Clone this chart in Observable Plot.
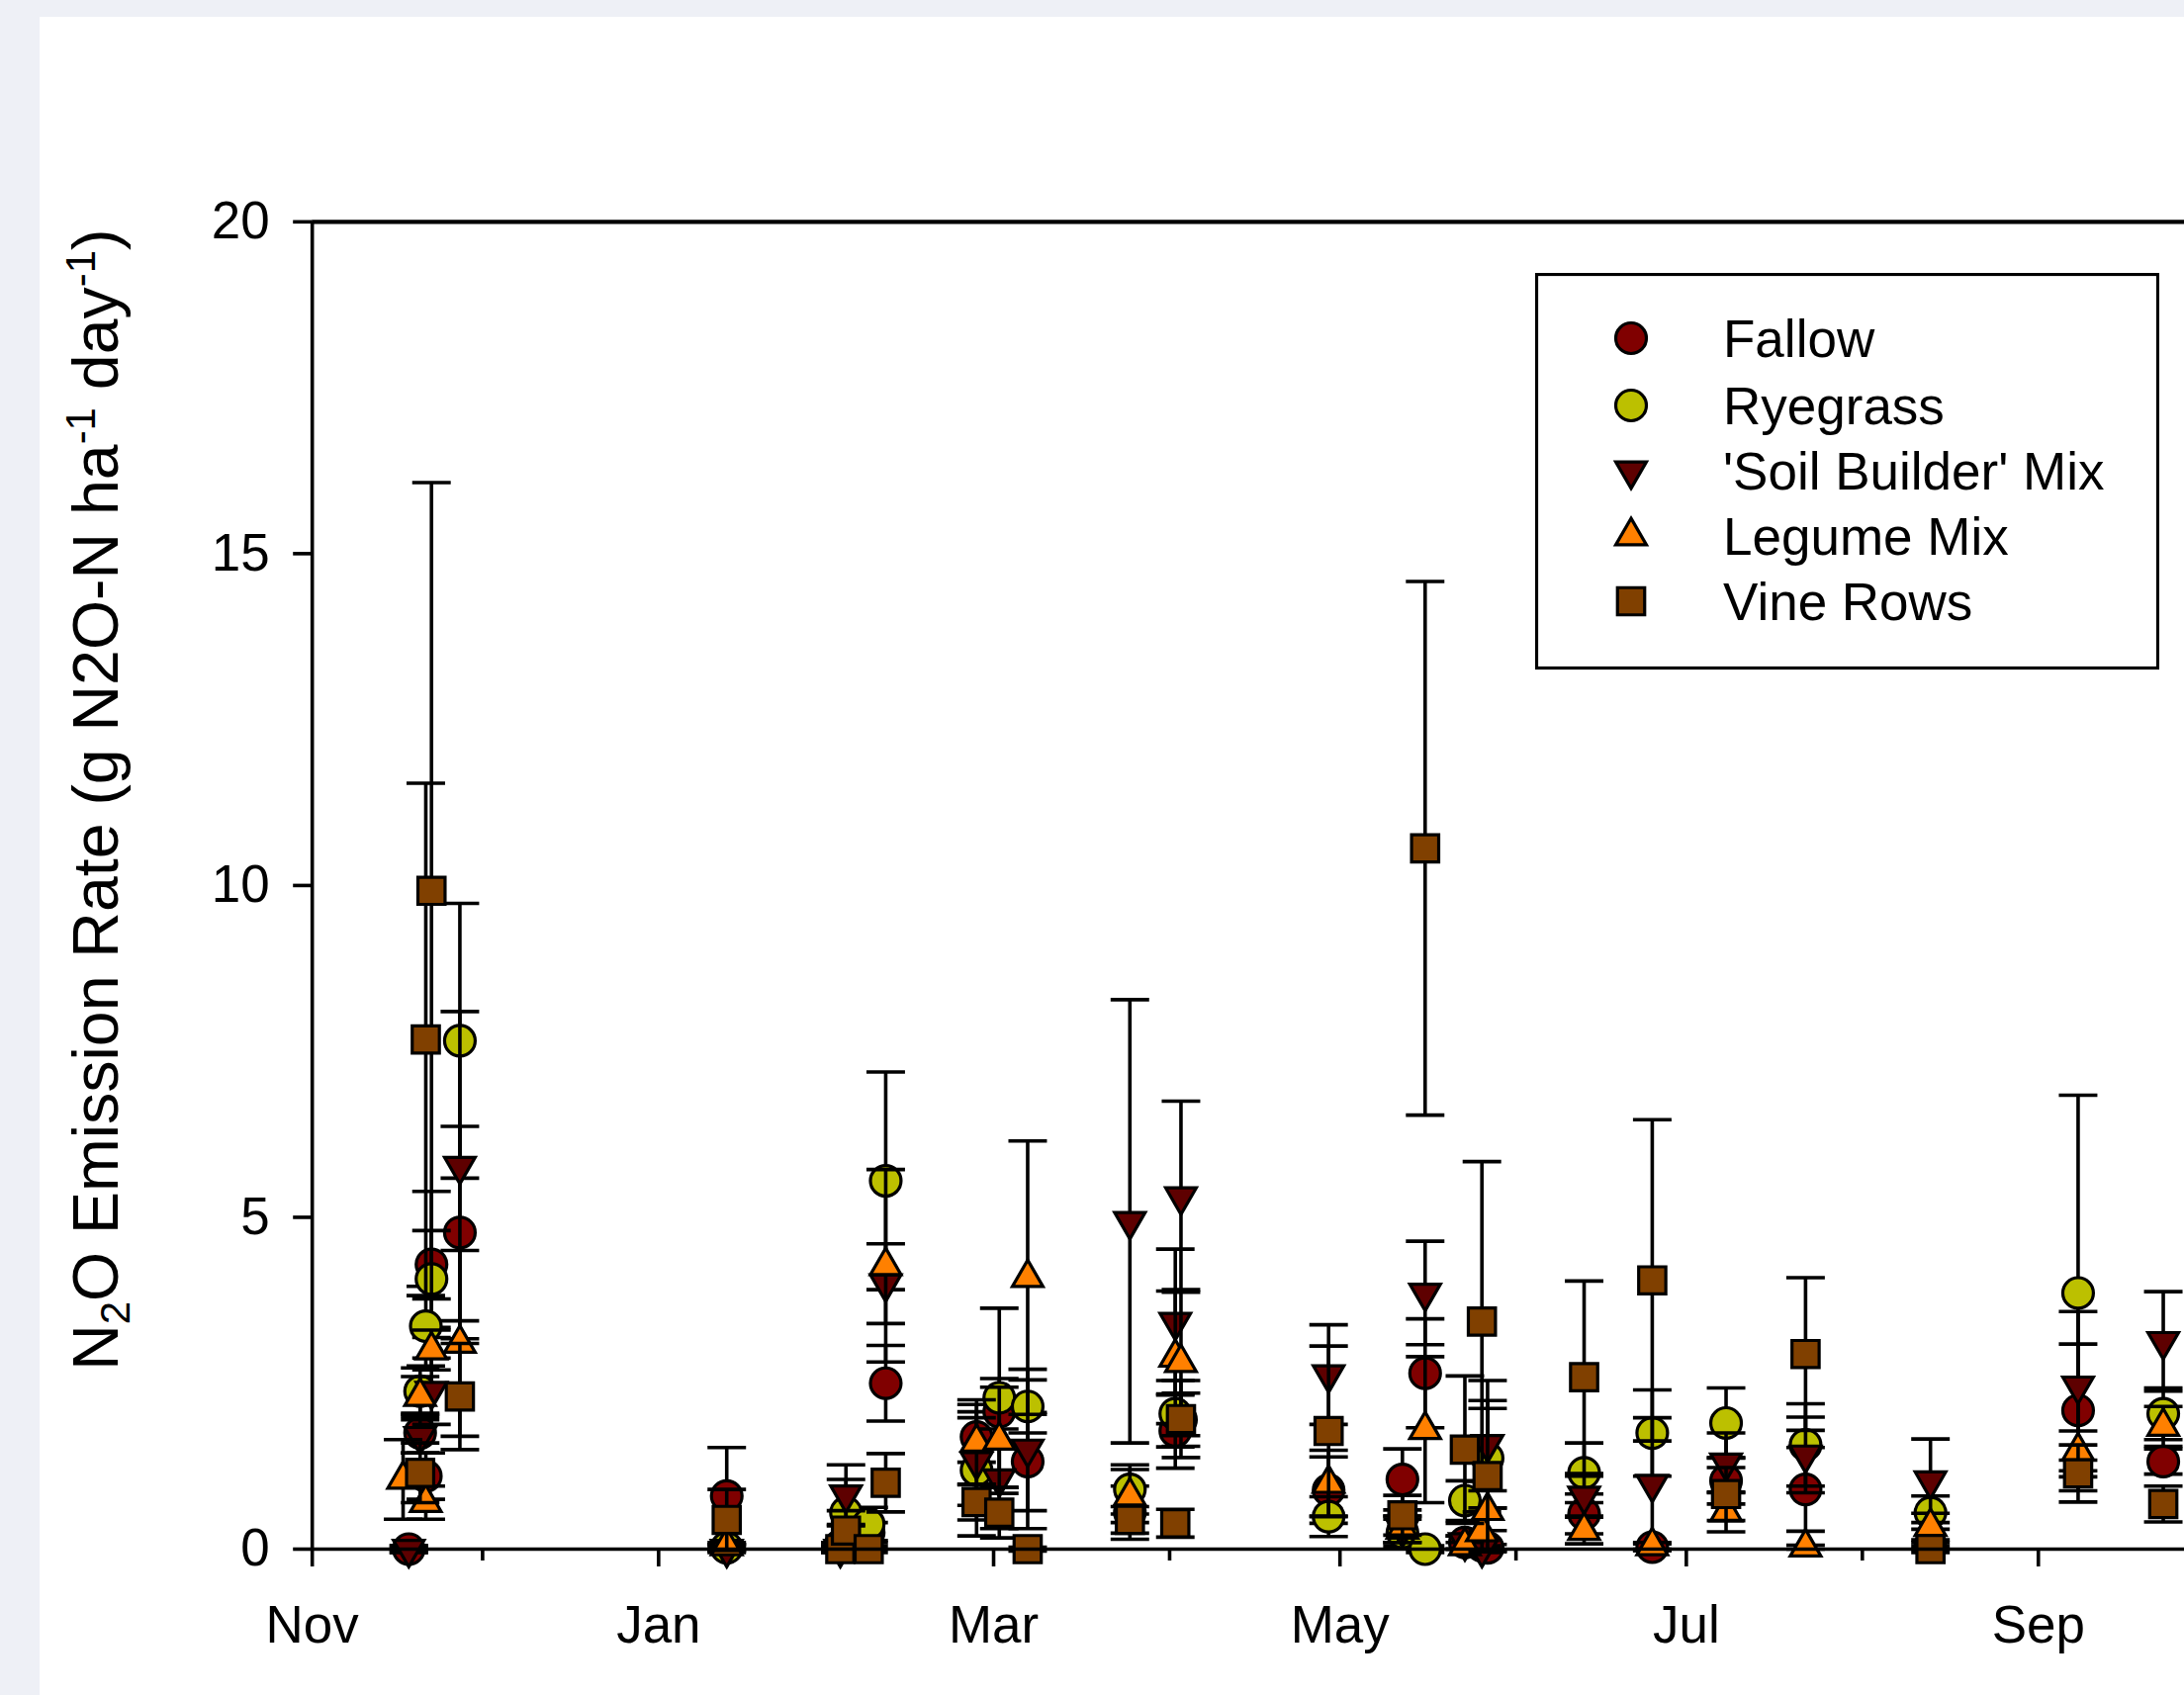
<!DOCTYPE html>
<html><head><meta charset="utf-8">
<script src="https://cdn.jsdelivr.net/npm/d3@7"></script>
<script src="https://cdn.jsdelivr.net/npm/@observablehq/plot@0.6"></script>
<style>
html,body{margin:0;padding:0;overflow:hidden;background:#eef0f6;width:2208px;height:1714px;}
#card{position:absolute;left:40px;top:17px;width:2400px;height:1760px;background:#fff;}
#card svg{display:block}
#legend{position:absolute;left:1512px;top:259px;}
</style></head><body><div id="card"></div><script>
// ---- data: [date, mean, standard error] ----
const fallow = [
  ["2012-11-18",0.00,0.05],["2012-11-20",1.75,0.30],["2012-11-21",1.10,0.35],["2012-11-22",4.29,1.10],["2012-11-27",4.77,1.60],
  ["2013-01-13",0.80,0.73],["2013-02-02",0.05,0.05],["2013-02-07",0.25,0.15],["2013-02-10",2.50,0.57],
  ["2013-02-26",1.69,0.38],["2013-03-02",2.07,0.50],["2013-03-07",1.32,0.74],["2013-03-25",0.55,0.40],
  ["2013-04-02",1.78,0.56],["2013-04-03",1.95,0.40],["2013-04-29",0.89,0.50],["2013-05-12",1.05,0.46],
  ["2013-05-16",2.65,0.82],["2013-05-23",0.10,0.10],["2013-05-26",0.05,0.10],["2013-05-27",0.02,0.05],
  ["2013-06-13",0.53,0.30],["2013-06-25",0.03,0.05],["2013-07-08",1.03,0.35],["2013-07-22",0.90,0.63],
  ["2013-08-13",0.05,0.05],["2013-09-08",2.09,1.00],["2013-09-23",1.32,0.19]
];
const ryegrass = [
  ["2012-11-20",2.38,0.35],["2012-11-21",3.36,0.60],["2012-11-22",4.07,0.73],["2012-11-27",7.66,2.07],
  ["2013-01-13",0.02,0.05],["2013-02-03",0.55,0.50],["2013-02-07",0.38,0.25],["2013-02-10",5.55,1.64],
  ["2013-02-26",1.19,0.99],["2013-03-02",2.28,1.35],["2013-03-07",2.15,0.40],["2013-03-25",0.90,0.37],
  ["2013-04-02",2.04,0.50],["2013-04-29",0.49,0.30],["2013-05-12",0.25,0.20],["2013-05-16",0.00,0.05],
  ["2013-05-23",0.73,0.30],["2013-05-27",1.37,0.75],["2013-06-13",1.15,0.45],["2013-06-25",1.75,0.65],
  ["2013-07-08",1.90,0.53],["2013-07-22",1.57,0.62],["2013-08-13",0.55,0.25],["2013-09-08",3.86,2.98],
  ["2013-09-23",2.04,0.39]
];
const soilBuilder = [
  ["2012-11-18",0.00,0.05],["2012-11-20",1.70,0.25],["2012-11-22",2.38,0.50],["2012-11-27",5.77,2.33],
  ["2013-01-13",0.00,0.05],["2013-02-02",0.00,0.05],["2013-02-03",0.82,0.45],["2013-02-10",4.00,0.60],
  ["2013-02-26",1.32,0.66],["2013-03-02",1.06,0.75],["2013-03-07",1.51,1.20],["2013-03-25",4.94,3.34],
  ["2013-04-02",3.42,1.10],["2013-04-03",5.31,1.44],["2013-04-29",2.63,0.75],["2013-05-12",0.30,0.20],
  ["2013-05-16",3.86,0.78],["2013-05-23",0.10,0.10],["2013-05-26",0.00,0.05],["2013-05-27",1.58,0.96],
  ["2013-06-13",0.80,0.30],["2013-06-25",0.98,1.00],["2013-07-08",1.30,0.45],["2013-07-22",1.42,0.57],
  ["2013-08-13",1.03,0.63],["2013-09-08",2.46,1.12],["2013-09-23",3.13,0.75]
];
const legumeMix = [
  ["2012-11-17",1.05,0.60],["2012-11-20",2.30,0.30],["2012-11-21",0.70,0.25],["2012-11-22",3.00,0.30],["2012-11-27",3.10,1.40],
  ["2013-01-13",0.05,0.05],["2013-02-03",0.20,0.15],["2013-02-10",4.27,1.45],["2013-02-26",1.61,0.64],
  ["2013-03-02",1.64,0.80],["2013-03-07",4.09,2.06],["2013-03-25",0.80,0.40],["2013-04-02",2.89,1.00],
  ["2013-04-03",2.81,1.10],["2013-04-29",0.99,0.50],["2013-05-12",0.30,0.20],["2013-05-16",1.80,1.10],
  ["2013-05-23",0.05,0.05],["2013-05-26",0.26,0.30],["2013-05-27",0.58,0.30],["2013-06-13",0.28,0.20],
  ["2013-06-25",0.05,0.05],["2013-07-08",0.56,0.30],["2013-07-22",0.03,0.03],["2013-08-13",0.34,0.20],
  ["2013-09-08",1.48,0.30],["2013-09-23",1.85,0.30]
];
const vineRows = [
  ["2012-11-20",1.15,0.45],["2012-11-21",7.68,3.86],["2012-11-22",9.92,6.15],["2012-11-27",2.30,0.80],
  ["2013-01-13",0.44,0.46],["2013-02-02",0.00,0.05],["2013-02-03",0.28,0.30],["2013-02-07",0.00,0.05],
  ["2013-02-10",1.00,0.44],["2013-02-26",0.71,0.27],["2013-03-02",0.55,0.38],["2013-03-07",0.00,0.03],
  ["2013-03-25",0.44,0.20],["2013-04-02",0.39,0.21],["2013-04-03",1.96,0.58],["2013-04-29",1.78,1.28],
  ["2013-05-12",0.51,0.30],["2013-05-16",10.56,4.02],["2013-05-23",1.50,1.11],["2013-05-26",3.43,2.41],
  ["2013-05-27",1.10,1.14],["2013-06-13",2.59,1.45],["2013-06-25",4.05,2.42],["2013-07-08",0.83,0.40],
  ["2013-07-22",2.94,1.15],["2013-08-13",0.00,0.05],["2013-09-08",1.14,0.43],["2013-09-23",0.68,0.27]
];
const seriesNames = ["Fallow","Ryegrass","'Soil Builder' Mix","Legume Mix","Vine Rows"];
const seriesColors = ["#800000","#bcc000","#5e0000","#ff8000","#804000"];
const majorTicks = ["2012-11-01","2013-01-01","2013-03-01","2013-05-01","2013-07-01","2013-09-01"];
const majorLabels = ["Nov","Jan","Mar","May","Jul","Sep"];
const minorTicks = ["2012-12-01","2013-02-01","2013-04-01","2013-06-01","2013-08-01","2013-10-01","2013-11-01"];
const yTicks = [0,5,10,15,20];
const xDomain = ["2012-11-01","2013-11-01"];
const yDomain = [0,20];

// ---- symbols ----
const invTriangle = {draw(ctx, size){
  const y = -Math.sqrt(size/(Math.sqrt(3)*3)), s3 = Math.sqrt(3);
  ctx.moveTo(0, -y*2); ctx.lineTo(-s3*y, y); ctx.lineTo(s3*y, y); ctx.closePath();
}};
const capSymbol = {draw(ctx, size){
  const w = Math.sqrt(size/Math.PI); ctx.moveTo(-w,0); ctx.lineTo(w,0);
}};
const symbolTypes = [d3.symbolCircle, d3.symbolCircle, invTriangle, d3.symbolTriangle, d3.symbolSquare];
const symbolR = [15.5, 15.5, 11.5, 11.5, 15.5];

const parse = s => new Date(s + "T00:00:00Z");
const allSeries = [fallow, ryegrass, soilBuilder, legumeMix, vineRows].map((arr, i) => ({
  name: seriesNames[i], color: seriesColors[i], symbol: symbolTypes[i], r: symbolR[i],
  rows: arr.map(([d, m, se]) => ({date: parse(d), mean: m, se}))
}));

const LW = 3.6;
const marks = [];
for (const s of allSeries) {
  marks.push(Plot.ruleX(s.rows, {x: "date", y1: d => d.mean - d.se, y2: d => d.mean + d.se, stroke: "black", strokeWidth: LW}));
  marks.push(Plot.dot(s.rows, {x: "date", y: d => d.mean + d.se, symbol: capSymbol, r: 19.5, fill: "none", stroke: "black", strokeWidth: LW}));
  marks.push(Plot.dot(s.rows, {x: "date", y: d => d.mean - d.se, symbol: capSymbol, r: 19.5, fill: "none", stroke: "black", strokeWidth: LW}));
  marks.push(Plot.dot(s.rows, {x: "date", y: "mean", symbol: s.symbol, r: s.r, fill: s.color, stroke: "black", strokeWidth: 3.2}));
}

const chart = Plot.plot({
  width: 2402, height: 1697,
  marginLeft: 275.4, marginRight: 29.6, marginTop: 207, marginBottom: 146.7,
  style: {fontFamily: "'Liberation Sans', Arial, sans-serif", fontSize: "53px", color: "black", background: "white", overflow: "visible"},
  x: {type: "utc", domain: xDomain.map(parse), label: null},
  y: {domain: yDomain, label: null},
  marks: [
    Plot.axisY({ticks: yTicks, tickSize: 19, tickPadding: 24, strokeWidth: LW, fontSize: 53, label: null}),
    Plot.axisX({ticks: majorTicks.map(parse), tickFormat: d => majorLabels[majorTicks.indexOf(d.toISOString().slice(0,10))], tickSize: 18, tickPadding: 39, strokeWidth: LW, fontSize: 53, label: null}),
    Plot.axisX({ticks: minorTicks.map(parse), tickFormat: () => "", tickSize: 12, strokeWidth: LW, label: null}),
    ...marks,
    Plot.ruleY([yDomain[0]], {strokeWidth: LW}),
    Plot.ruleY([yDomain[1]], {strokeWidth: 4.2}),
    Plot.ruleX([parse(xDomain[0])], {strokeWidth: LW})
  ]
});
const card = document.getElementById("card");
card.appendChild(chart);

// ---- y-axis title ----
const svg = d3.select(chart);
const title = svg.append("text")
  .attr("transform", "translate(79,1370) rotate(-90)")
  .attr("text-anchor", "start")
  .attr("font-family", "'Liberation Sans', Arial, sans-serif")
  .attr("font-size", 64.5).attr("fill", "black");
const parts = [
  ["N", 0, 64.5], ["2", 12, 42], ["O Emission Rate (g N2O-N ha", -12, 64.5],
  ["-1", -23, 42], [" day", 23, 64.5], ["-1", -23, 42], [")", 23, 64.5]
];
for (const [txt, dy, fs] of parts) title.append("tspan").attr("dy", dy).attr("font-size", fs).text(txt);

// ---- legend ----
const leg = d3.select(card).append("svg").attr("id", "legend").attr("width", 631).attr("height", 402);
leg.append("rect").attr("x", 1.5).attr("y", 1.5).attr("width", 628).attr("height", 398)
  .attr("fill", "white").attr("stroke", "black").attr("stroke-width", 3.2);
const rowY = [66, 134, 200, 266, 332];
allSeries.forEach((s, i) => {
  leg.append("path").attr("transform", `translate(97,${rowY[i]})`)
    .attr("d", d3.symbol().type(s.symbol).size(Math.PI * s.r * s.r)())
    .attr("fill", s.color).attr("stroke", "black").attr("stroke-width", 3.2);
  leg.append("text").attr("x", 190).attr("y", rowY[i] + 19)
    .attr("font-family", "'Liberation Sans', Arial, sans-serif").attr("font-size", 53)
    .text(s.name);
});
</script></body></html>
